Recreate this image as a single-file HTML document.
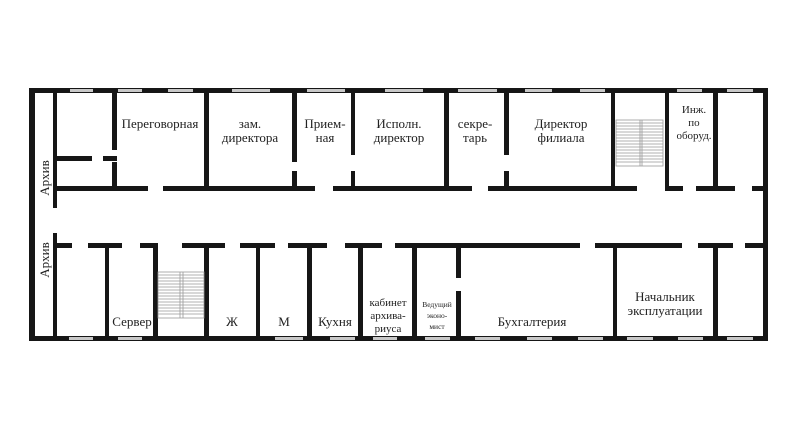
<!DOCTYPE html>
<html><head><meta charset="utf-8"><style>
html,body{margin:0;padding:0;background:#fff;}
svg{display:block;}
text{font-family:"Liberation Serif","DejaVu Serif",serif;fill:#222;}
</style></head><body>
<svg width="800" height="433" viewBox="0 0 800 433" xmlns="http://www.w3.org/2000/svg">
<g fill="#161616">
<!-- outer walls -->
<rect x="29" y="88" width="739" height="5"/>
<rect x="29" y="336" width="739" height="5"/>
<rect x="29" y="88" width="6" height="253"/>
<rect x="763" y="88" width="5" height="253"/>
<!-- inner left wall -->
<rect x="53" y="88" width="4" height="120"/>
<rect x="53" y="233" width="4" height="108"/>
<!-- upper corridor wall -->
<rect x="53" y="186" width="95" height="5"/>
<rect x="163" y="186" width="152" height="5"/>
<rect x="333" y="186" width="139" height="5"/>
<rect x="488" y="186" width="149" height="5"/>
<rect x="665" y="186" width="18" height="5"/>
<rect x="696" y="186" width="39" height="5"/>
<rect x="752" y="186" width="16" height="5"/>
<!-- lower corridor wall -->
<rect x="55" y="243" width="17" height="5"/>
<rect x="88" y="243" width="34" height="5"/>
<rect x="140" y="243" width="18" height="5"/>
<rect x="182" y="243" width="43" height="5"/>
<rect x="240" y="243" width="35" height="5"/>
<rect x="288" y="243" width="39" height="5"/>
<rect x="345" y="243" width="37" height="5"/>
<rect x="395" y="243" width="185" height="5"/>
<rect x="595" y="243" width="87" height="5"/>
<rect x="698" y="243" width="35" height="5"/>
<rect x="745" y="243" width="23" height="5"/>
<!-- upper verticals -->
<rect x="112" y="88" width="5" height="62"/>
<rect x="112" y="162" width="5" height="27"/>
<rect x="55" y="156" width="37" height="5"/>
<rect x="103" y="156" width="14" height="5"/>
<rect x="204" y="88" width="5" height="100"/>
<rect x="292" y="88" width="5" height="74"/>
<rect x="292" y="171" width="5" height="17"/>
<rect x="351" y="88" width="4" height="67"/>
<rect x="351" y="171" width="4" height="17"/>
<rect x="444" y="88" width="5" height="100"/>
<rect x="504" y="88" width="5" height="67"/>
<rect x="504" y="171" width="5" height="17"/>
<rect x="611" y="88" width="4" height="100"/>
<rect x="665" y="88" width="4" height="100"/>
<rect x="713" y="88" width="5" height="100"/>
<!-- lower verticals -->
<rect x="105" y="245" width="4" height="95"/>
<rect x="153" y="245" width="5" height="95"/>
<rect x="204" y="245" width="5" height="95"/>
<rect x="256" y="245" width="4" height="95"/>
<rect x="307" y="245" width="5" height="95"/>
<rect x="358" y="245" width="5" height="95"/>
<rect x="412" y="245" width="5" height="95"/>
<rect x="456" y="245" width="5" height="33"/>
<rect x="456" y="291" width="5" height="49"/>
<rect x="613" y="245" width="4" height="95"/>
<rect x="713" y="245" width="5" height="95"/>
</g>
<!-- windows -->
<g fill="#c8c8c8">
<rect x="70" y="89" width="23" height="3"/><rect x="118" y="89" width="24" height="3"/>
<rect x="168" y="89" width="25" height="3"/><rect x="232" y="89" width="38" height="3"/>
<rect x="307" y="89" width="38" height="3"/><rect x="385" y="89" width="38" height="3"/>
<rect x="458" y="89" width="39" height="3"/><rect x="525" y="89" width="27" height="3"/>
<rect x="580" y="89" width="25" height="3"/><rect x="677" y="89" width="25" height="3"/>
<rect x="727" y="89" width="26" height="3"/>
<rect x="69" y="337" width="24" height="3"/><rect x="118" y="337" width="24" height="3"/>
<rect x="275" y="337" width="28" height="3"/><rect x="330" y="337" width="25" height="3"/>
<rect x="373" y="337" width="24" height="3"/><rect x="425" y="337" width="25" height="3"/>
<rect x="475" y="337" width="25" height="3"/><rect x="527" y="337" width="25" height="3"/>
<rect x="578" y="337" width="25" height="3"/><rect x="627" y="337" width="26" height="3"/>
<rect x="678" y="337" width="25" height="3"/><rect x="727" y="337" width="26" height="3"/>
</g>
<!-- stairs -->
<g stroke="#999" stroke-width="0.8">
<rect x="616" y="120" width="47" height="46" fill="none"/>
<line x1="640" y1="120" x2="640" y2="166"/><line x1="642" y1="120" x2="642" y2="166"/>
<path d="M616 123H663M616 126H663M616 129H663M616 132H663M616 135H663M616 138H663M616 141H663M616 144H663M616 147H663M616 150H663M616 153H663M616 156H663M616 159H663M616 162H663"/>
<rect x="158" y="272" width="46" height="46" fill="none"/>
<line x1="180" y1="272" x2="180" y2="318"/><line x1="183" y1="272" x2="183" y2="318"/>
<path d="M158 275H204M158 278H204M158 281H204M158 284H204M158 287H204M158 290H204M158 293H204M158 296H204M158 299H204M158 302H204M158 305H204M158 308H204M158 311H204M158 314H204"/>
</g>
<!-- labels -->
<g font-size="13" text-anchor="middle">
<text x="45" y="182" transform="rotate(-90 45 178)">Архив</text>
<text x="45" y="264" transform="rotate(-90 45 260)">Архив</text>
<text x="160" y="128">Переговорная</text>
<text x="250" y="128">зам.</text><text x="250" y="142">директора</text>
<text x="325" y="128">Прием-</text><text x="325" y="142">ная</text>
<text x="399" y="128">Исполн.</text><text x="399" y="142">директор</text>
<text x="475" y="128">секре-</text><text x="475" y="142">тарь</text>
<text x="561" y="128">Директор</text><text x="561" y="142">филиала</text>
<text x="132" y="326">Сервер</text>
<text x="232" y="326">Ж</text>
<text x="284" y="326">М</text>
<text x="335" y="326">Кухня</text>
<text x="532" y="326">Бухгалтерия</text>
<text x="665" y="301">Начальник</text><text x="665" y="315">эксплуатации</text>
</g>
<g font-size="11" text-anchor="middle">
<text x="694" y="113">Инж.</text><text x="694" y="126">по</text><text x="694" y="139">оборуд.</text>
<text x="388" y="306">кабинет</text><text x="388" y="319">архива-</text><text x="388" y="332">риуса</text>
</g>
<g font-size="7.5" text-anchor="middle">
<text x="437" y="307">Ведущий</text><text x="437" y="318">эконо-</text><text x="437" y="329">мист</text>
</g>
</svg>
</body></html>
